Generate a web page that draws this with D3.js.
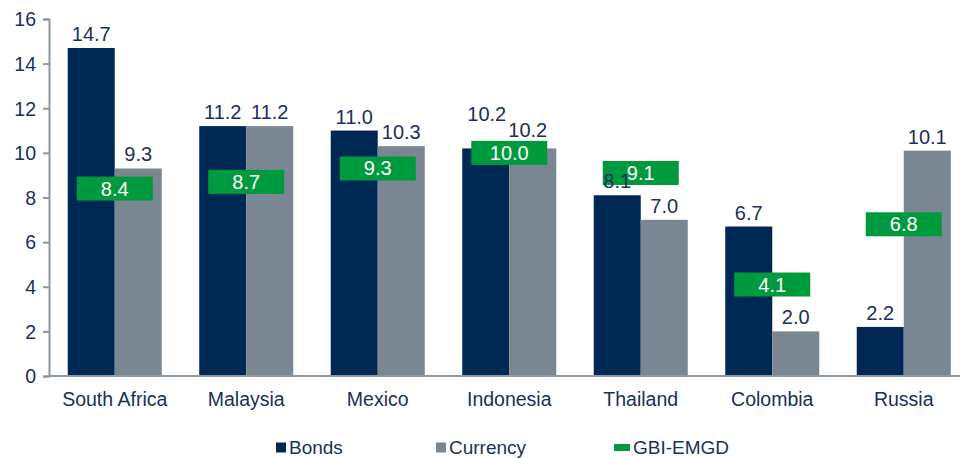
<!DOCTYPE html>
<html>
<head>
<meta charset="utf-8">
<script src="https://cdn.jsdelivr.net/npm/d3@7"></script>
<style>
  body { margin: 0; background: #fff; }
  text { font-family: "Liberation Sans", Arial, sans-serif; }
</style>
</head>
<body>
<svg id="display"></svg>
<script>
const countries = ['South Africa', 'Malaysia', 'Mexico', 'Indonesia', 'Thailand', 'Colombia', 'Russia']
const bonds = [14.7, 11.2, 11.0, 10.2, 8.1, 6.7, 2.2]
const currency = [9.3, 11.2, 10.3, 10.2, 7.0, 2.0, 10.1]
const gbi = [8.4, 8.7, 9.3, 10.0, 9.1, 4.1, 6.8]
const yTicks = [0, 2, 4, 6, 8, 10, 12, 14, 16]

const width = 960
const height = 458
const navy = '#002855'
const grey = '#7a8692'
const green = '#009a3e'
const textCol = '#1b305a'
const axisCol = '#8e98a2'

let svg = d3.select('#display')
  .attr('width', width)
  .attr('height', height)

const x0 = 49
const step = 131.5

const x = d3.scaleBand()
  .domain(countries)
  .range([x0, x0 + step * countries.length])
  .paddingInner(0.285)
  .paddingOuter(0.1425)

const sub = d3.scaleBand()
  .domain(['bonds', 'currency'])
  .range([0, x.bandwidth()])

const y = d3.scaleLinear()
  .domain([0, 16])
  .range([376, 19])

// y axis
let yAxis = svg.append('g')
  .attr('transform', 'translate(' + x0 + ',0)')
  .call(d3.axisLeft(y).tickValues(yTicks).tickSize(6).tickPadding(7))
yAxis.select('.domain').attr('stroke', axisCol).attr('stroke-width', 2)
yAxis.selectAll('.tick line').attr('stroke', axisCol).attr('stroke-width', 2)
yAxis.selectAll('.tick text')
  .attr('fill', textCol)
  .style('font-size', '19.5px')
  .attr('dy', '0.35em')

let rows = countries.map((c, i) => ({ country: c, bonds: bonds[i], currency: currency[i], gbi: gbi[i] }))

// labels at Indonesia collide with the marker, pushed up like the original
function nudge(d, key) {
  if (d.country === 'Indonesia') return key === 'bonds' ? { dx: 1, dy: -20 } : { dx: -5, dy: -4 }
  return { dx: 0, dy: 0 }
}

let groups = svg.selectAll('g.grp')
  .data(rows)
  .enter()
  .append('g')
  .attr('class', 'grp')
  .attr('transform', d => 'translate(' + x(d.country) + ',0)')

groups.append('rect')
  .attr('x', sub('bonds'))
  .attr('y', d => y(d.bonds))
  .attr('width', sub.bandwidth())
  .attr('height', d => y(0) - y(d.bonds))
  .attr('fill', navy)

groups.append('rect')
  .attr('x', sub('currency'))
  .attr('y', d => y(d.currency))
  .attr('width', sub.bandwidth())
  .attr('height', d => y(0) - y(d.currency))
  .attr('fill', grey)

// GBI-EMGD markers
groups.append('rect')
  .attr('x', x.bandwidth() / 2 - 38)
  .attr('y', d => y(d.gbi) - 12)
  .attr('width', 76)
  .attr('height', 24)
  .attr('fill', green)

groups.append('text')
  .attr('x', d => sub('bonds') + sub.bandwidth() / 2 + nudge(d, 'bonds').dx)
  .attr('y', d => y(d.bonds) - 7 + nudge(d, 'bonds').dy)
  .attr('text-anchor', 'middle')
  .attr('fill', textCol)
  .style('font-size', '20px')
  .text(d => d.bonds.toFixed(1))

groups.append('text')
  .attr('x', d => sub('currency') + sub.bandwidth() / 2 + nudge(d, 'currency').dx)
  .attr('y', d => y(d.currency) - 7 + nudge(d, 'currency').dy)
  .attr('text-anchor', 'middle')
  .attr('fill', textCol)
  .style('font-size', '20px')
  .text(d => d.currency.toFixed(1))

groups.append('text')
  .attr('x', x.bandwidth() / 2)
  .attr('y', d => y(d.gbi) + 7)
  .attr('text-anchor', 'middle')
  .attr('fill', '#fff')
  .style('font-size', '20px')
  .text(d => d.gbi.toFixed(1))

// x axis
svg.append('line')
  .attr('x1', x0)
  .attr('x2', width)
  .attr('y1', y(0))
  .attr('y2', y(0))
  .attr('stroke', axisCol)
  .attr('stroke-width', 2)

groups.append('text')
  .attr('x', x.bandwidth() / 2)
  .attr('y', 406)
  .attr('text-anchor', 'middle')
  .attr('fill', textCol)
  .style('font-size', '19.5px')
  .text(d => d.country)

// legend
const legend = [
  { name: 'Bonds', color: navy, x: 276, w: 10, h: 10 },
  { name: 'Currency', color: grey, x: 436, w: 10, h: 10 },
  { name: 'GBI-EMGD', color: green, x: 614, w: 16, h: 7 }
]
let lg = svg.selectAll('g.lg')
  .data(legend)
  .enter()
  .append('g')
  .attr('class', 'lg')
lg.append('rect')
  .attr('x', d => d.x)
  .attr('y', d => 447.5 - d.h / 2)
  .attr('width', d => d.w)
  .attr('height', d => d.h)
  .attr('fill', d => d.color)
lg.append('text')
  .attr('x', d => d.x + d.w + 3)
  .attr('y', 453.5)
  .attr('fill', textCol)
  .style('font-size', '19px')
  .text(d => d.name)
</script>
</body>
</html>
